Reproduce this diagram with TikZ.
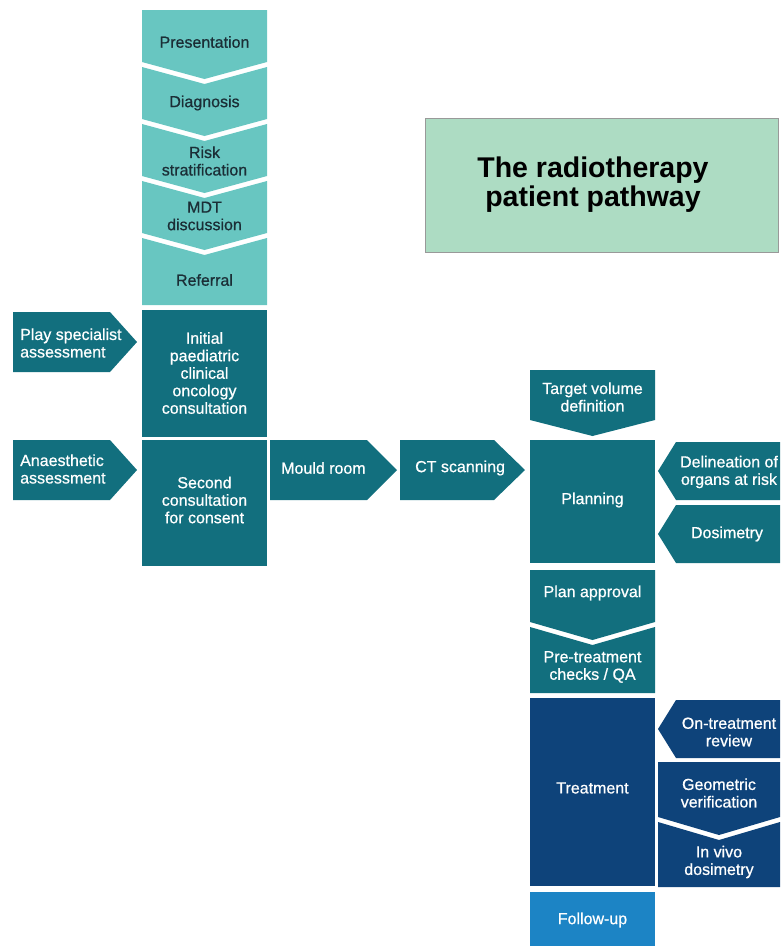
\documentclass[tikz,border=0pt]{standalone}
\usepackage{fontspec}
\setmainfont{Liberation Sans}
\newfontfamily\boxfont[FakeBold=0.7]{Liberation Sans}
\usepackage{tikz}
\definecolor{tealL}{HTML}{68C6C1}
\definecolor{tealD}{HTML}{126F7E}
\definecolor{navy}{HTML}{0E437A}
\definecolor{skyb}{HTML}{1C84C5}
\definecolor{titleg}{HTML}{ADDCC3}
\definecolor{inkd}{HTML}{1B2E36}
\tikzset{lt/.style={fill=tealL},
	dk/.style={fill=tealD},
	nv/.style={fill=navy},
	txt/.style={inner sep=0pt, align=center, text=white, font=\boxfont\fontsize{16}{17.5}\selectfont},
	txtd/.style={txt, text=inkd},
	txtl/.style={txt, align=left, anchor=west}}

\begin{document}
\begin{tikzpicture}[x=1pt,y=-1pt]
	\useasboundingbox (0,0) rectangle (780,946);
	% title
	\draw[gray!80, fill=titleg] (425,118) rectangle (778,252);
	\node[inner sep=0pt, align=center, font=\bfseries\fontsize{28.5}{29}\selectfont] (title) at (593,185) {The radiotherapy\\patient pathway};
	% first steps
	\fill[lt] (142,10) -- (267,10) -- (267,62) -- (204.5,79) -- (142,62) -- cycle;
	\node[txtd] (pres) at (204.5,42) {Presentation};
	\fill[lt] (142,67) -- (204.5,84) -- (267,67) -- (267,119) -- (204.5,136) -- (142,119) -- cycle;
	\node[txtd] (diag) at (204.5,103) {Diagnosis};
	\fill[lt] (142,124) -- (204.5,141) -- (267,124) -- (267,176) -- (204.5,193) -- (142,176) -- cycle;
	\node[txtd] (risk) at (204.5,161) {Risk\\stratification};
	\fill[lt] (142,181) -- (204.5,198) -- (267,181) -- (267,233) -- (204.5,250) -- (142,233) -- cycle;
	\node[txtd] (mdt) at (204.5,216) {MDT\\discussion};
	\fill[lt] (142,238) -- (204.5,255) -- (267,238) -- (267,305) -- (142,305) -- cycle;
	\node[txtd] (referral) at (204.5,280) {Referral};
	% consultations
	\fill[dk] (142,310) rectangle (267,437);
	\node[txt] (initial) at (204.5,373) {Initial\\paediatric\\clinical\\oncology\\consultation};
	\fill[dk] (142,440) rectangle (267,566);
	\node[txt] (second) at (204.5,500) {Second\\consultation\\for consent};
	\fill[dk] (13,312) -- (110,312) -- (137,342) -- (110,372) -- (13,372) -- cycle;
	\node[txtl] (play) at (20,343) {Play specialist\\assessment};
	\fill[dk] (13,440) -- (110,440) -- (137,470) -- (110,500) -- (13,500) -- cycle;
	\node[txtl] (anaes) at (20,469) {Anaesthetic\\assessment};
	\fill[dk] (270,440) -- (367,440) -- (397,470) -- (367,500) -- (270,500) -- cycle;
	\node[txtl] (mould) at (281,468) {Mould room};
	\fill[dk] (400,440) -- (494,440) -- (525,470) -- (494,500) -- (400,500) -- cycle;
	\node[txtl] (ct) at (415,468) {CT scanning};
	% planning
	\fill[dk] (530,370) -- (655,370) -- (655,420) -- (592.5,436) -- (530,420) -- cycle;
	\node[txt] (target) at (592.5,397) {Target volume\\definition};
	\fill[dk] (530,440) rectangle (655,563);
	\node[txt] (planning) at (592.5,500) {Planning};
	\fill[dk] (780,442) -- (676,442) -- (658,471) -- (676,500) -- (780,500) -- cycle;
	\node[txt] (delin) at (729,472) {Delineation of\\organs at risk};
	\fill[dk] (780,505) -- (676,505) -- (658,534) -- (676,563) -- (780,563) -- cycle;
	\node[txt] (dosim) at (727,534) {Dosimetry};
	\fill[dk] (530,570) -- (655,570) -- (655,622) -- (592.5,640) -- (530,622) -- cycle;
	\node[txt] (approval) at (592.5,593) {Plan approval};
	\fill[dk] (530,627) -- (592.5,645) -- (655,627) -- (655,693) -- (530,693) -- cycle;
	\node[txt] (pretreat) at (592.5,667) {Pre-treatment\\checks / QA};
	% treatment
	\fill[nv] (530,698) rectangle (655,886);
	\node[txt] (treatment) at (592.5,788) {Treatment};
	\fill[nv] (780,700) -- (676,700) -- (658,729) -- (676,758) -- (780,758) -- cycle;
	\node[txt] (ontreat) at (729,732) {On-treatment\\review};
	\fill[nv] (658,762) -- (780,762) -- (780,817) -- (719,835) -- (658,817) -- cycle;
	\node[txt] (geom) at (719,793) {Geometric\\verification};
	\fill[nv] (658,822) -- (719,840) -- (780,822) -- (780,887) -- (658,887) -- cycle;
	\node[txt] (invivo) at (719,862) {In vivo\\dosimetry};
	\fill[skyb] (530,892) rectangle (655,946);
	\node[txt] (followup) at (592.5,920) {Follow-up};
\end{tikzpicture}
\end{document}
